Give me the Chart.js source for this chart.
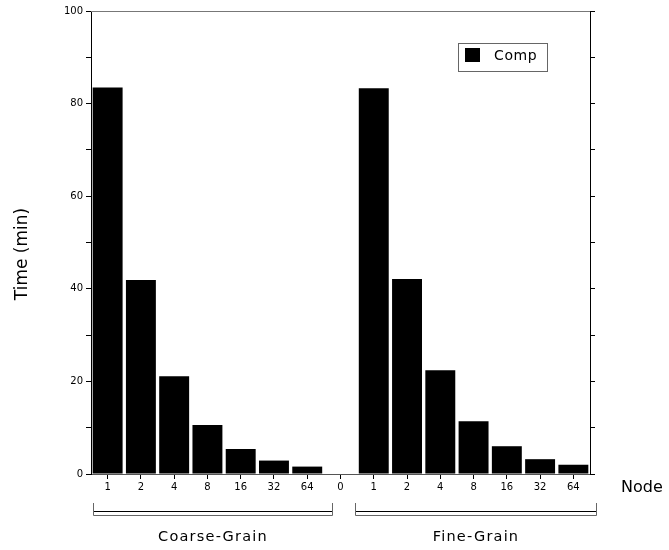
<!DOCTYPE html>
<html>
<head>
<meta charset="utf-8">
<script src="https://cdn.jsdelivr.net/npm/chart.js@4"></script>
<style>
    body { margin: 0; background: #fff; }
    #chart { display: block; }
</style>
</head>
<body>
<canvas id="chart" width="669" height="550"></canvas>
<script>
// Data
const nodes = ['1', '2', '4', '8', '16', '32', '64'];
const coarseGrain = [83.5, 41.9, 21.1, 10.6, 5.4, 2.9, 1.6];
const fineGrain = [83.3, 42.1, 22.4, 11.4, 6.0, 3.2, 2.0];
const gapLabel = ['0'];
const gapValue = [0];
const yTicks = [0, 20, 40, 60, 80, 100];

const categories = [...nodes, ...gapLabel, ...nodes];
const compValues = [...coarseGrain, ...gapValue, ...fineGrain];

const tickFont = { family: 'DejaVu Sans', size: 10 };

// Extra text, legend and group brackets
const decorations = {
    id: 'decorations',
    afterDraw(chart) {
        const ctx = chart.ctx;
        const area = chart.chartArea;
        ctx.save();

        // gray top line
        ctx.strokeStyle = '#777';
        ctx.lineWidth = 1;
        ctx.beginPath();
        ctx.moveTo(area.left, area.top + 0.5);
        ctx.lineTo(area.right, area.top + 0.5);
        ctx.stroke();

        // y title
        ctx.fillStyle = '#000';
        ctx.font = '17px "DejaVu Sans"';
        ctx.textAlign = 'center';
        ctx.textBaseline = 'middle';
        ctx.translate(23, 254);
        ctx.rotate(-Math.PI / 2);
        ctx.fillText('Time (min)', 0, 0);
        ctx.setTransform(1, 0, 0, 1, 0, 0);

        // x title
        ctx.font = '16px "DejaVu Sans"';
        ctx.textAlign = 'left';
        ctx.fillText('Node', 621, 488);

        // legend
        const ds = chart.data.datasets[0];
        ctx.strokeStyle = '#666';
        ctx.strokeRect(458.5, 43.5, 89, 28);
        ctx.fillStyle = ds.backgroundColor;
        ctx.fillRect(465, 48, 15, 14);
        ctx.fillStyle = '#000';
        ctx.font = '14px "DejaVu Sans"';
        ctx.letterSpacing = '0.6px';
        ctx.fillText(ds.label, 494, 56);

        // group brackets
        const groups = [
            { name: 'Coarse-Grain', x0: 93.5, x1: 332.5 },
            { name: 'Fine-Grain', x0: 355.5, x1: 596.5 }
        ];
        groups.forEach(g => {
            ctx.strokeStyle = '#000';
            ctx.beginPath();
            ctx.moveTo(g.x0, 511.5);
            ctx.lineTo(g.x1, 511.5);
            ctx.stroke();
            ctx.strokeStyle = '#666';
            ctx.beginPath();
            ctx.moveTo(g.x0, 503);
            ctx.lineTo(g.x0, 515.5);
            ctx.lineTo(g.x1, 515.5);
            ctx.lineTo(g.x1, 503);
            ctx.stroke();
            ctx.fillStyle = '#000';
            ctx.font = '14.5px "DejaVu Sans"';
            ctx.letterSpacing = '1.2px';
            ctx.textAlign = 'center';
            ctx.fillText(g.name, (g.x0 + g.x1) / 2, 537);
        });
        ctx.restore();
    }
};

new Chart(document.getElementById('chart'), {
    type: 'bar',
    data: {
        labels: categories,
        datasets: [{
            label: 'Comp',
            data: compValues,
            backgroundColor: '#000',
            borderWidth: 0,
            barPercentage: 0.9,
            categoryPercentage: 1.0
        }]
    },
    options: {
        responsive: false,
        animation: false,
        devicePixelRatio: 1,
        layout: { padding: { top: 11, left: 0, right: 0, bottom: 0 } },
        plugins: {
            legend: { display: false },
            tooltip: { enabled: false }
        },
        scales: {
            x: {
                offset: true,
                afterFit: scale => { scale.height = 76; },
                grid: { drawOnChartArea: false, offset: false, tickLength: 5, color: '#000' },
                border: { color: '#555' },
                ticks: { color: '#000', font: tickFont, padding: 2, maxRotation: 0, autoSkip: false }
            },
            y: {
                min: 0,
                max: 100,
                afterFit: scale => { scale.width = 91; },
                grid: { drawOnChartArea: false, tickLength: 5, color: '#000' },
                border: { color: '#000' },
                ticks: {
                    stepSize: 10,
                    color: '#000',
                    font: tickFont,
                    padding: 3,
                    callback: v => yTicks.includes(v) ? v : ''
                }
            },
            y2: {
                position: 'right',
                min: 0,
                max: 100,
                afterFit: scale => { scale.width = 79; },
                grid: { drawOnChartArea: false, tickLength: 5, color: '#000' },
                border: { color: '#000' },
                ticks: { stepSize: 10, display: false }
            }
        }
    },
    plugins: [decorations]
});
</script>
</body>
</html>
